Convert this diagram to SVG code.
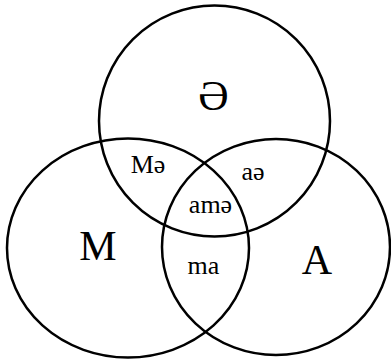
<svg xmlns="http://www.w3.org/2000/svg" width="391" height="362" viewBox="0 0 391 362">
<style>
.c{fill:none;stroke:#000;stroke-width:2.5}
.big{font-family:'Liberation Serif','DejaVu Serif',serif;font-size:42px;text-anchor:middle;fill:#000}
.sm{font-family:'Liberation Serif','DejaVu Serif',serif;font-size:26px;text-anchor:middle;fill:#000}
</style>
<rect width="391" height="362" fill="#fff"/>
<g id="set-schwa"><circle class="c" cx="214.5" cy="121" r="115.5"/></g>
<g id="set-M"><ellipse class="c" cx="128" cy="248" rx="121" ry="109.5"/></g>
<g id="set-A"><ellipse class="c" cx="276" cy="247" rx="114" ry="108"/></g>
<g id="labels">
<text class="big" x="213.5" y="110">Ə</text>
<text class="big" x="98" y="260">M</text>
<text class="big" x="317" y="274">A</text>
<text class="sm" x="148" y="173">Mə</text>
<text class="sm" x="253" y="180">aə</text>
<text class="sm" x="210.5" y="212.5">amə</text>
<text class="sm" x="203.5" y="274">ma</text>
</g>
<g id="connectors"></g>
</svg>
